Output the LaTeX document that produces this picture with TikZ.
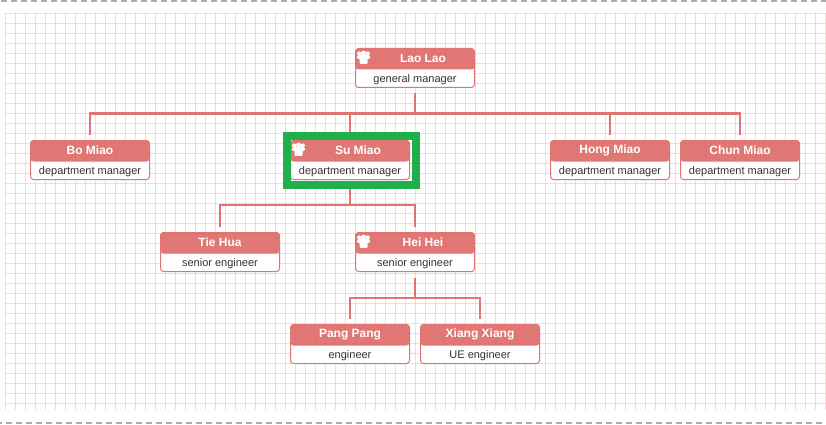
\documentclass[tikz,border=0pt]{standalone}
\usepackage{fontspec}
\setmainfont{Liberation Sans}
\definecolor{cardred}{HTML}{DF6C69}
\definecolor{cardline}{HTML}{E27370}
\definecolor{gridpink}{HTML}{E8A0A0}
\definecolor{markgreen}{HTML}{1FB04B}
\definecolor{dashgrey}{HTML}{ABABAB}
\definecolor{roletext}{HTML}{333333}
\tikzset{
    card/.style={rectangle, draw=cardline, line width=1pt, rounded corners=3pt,
        minimum width=119pt, minimum height=39pt, inner sep=0pt,
        path picture={
            \fill[white] ([yshift=-21pt]path picture bounding box.north west) rectangle (path picture bounding box.south east);
            \fill[cardred, fill opacity=0.92] (path picture bounding box.north west) rectangle ([yshift=-21pt]path picture bounding box.north east);}},
    cardtitle/.style={text=white, font=\bfseries\fontsize{12}{14}\selectfont},
    cardrole/.style={text=roletext, font=\fontsize{11}{13}\selectfont},
    link/.style={draw=cardline, line width=2pt, shorten <=5.5pt, shorten >=5.5pt},
    gridline/.style={gridpink, line width=1pt, opacity=0.38},
    edgeline/.style={dashgrey, line width=2pt, dash pattern=on 6pt off 4pt}
}
% #1 title shift, #2 name, #3 x, #4 y, #5 title, #6 role
\newcommand{\card}[6][0]{
    \node[card] (#2) at (#3,#4) {};
    \node[cardtitle] (#2title) at ([xshift=#1pt,yshift=9.5pt]#2.center) {#5};
    \node[cardrole] (#2role) at ([yshift=-11.5pt]#2.center) {#6};
}
% three heads and bodies in the header
\newcommand{\people}[1]{
    \begin{scope}[shift={([xshift=-51.5pt,yshift=10.5pt]#1.center)}, white]
        \fill (-4.3,-4) circle (2.1pt);
        \fill (4.3,-4) circle (2.1pt);
        \fill (0,-4.4) circle (2.5pt);
        \fill[rounded corners=1.5pt] (-6.6,1.6) rectangle (6.6,-2.4);
        \fill[rounded corners=1pt] (-4,6.4) rectangle (4,-2.2);
    \end{scope}
}
\begin{document}
\begin{tikzpicture}[x=1pt, y=-1pt]
    \useasboundingbox (0,0) rectangle (826,425);

    % background
    \foreach \x in {5.5,15.5,...,825.5} \draw[gridline] (\x,13) -- (\x,410);
    \foreach \y in {13.5,23.5,...,403.5} \draw[gridline] (5,\y) -- (826,\y);
    \draw[edgeline] (1,1) -- (826,1);
    \draw[edgeline, dash phase=4pt] (0,423.3) -- (826,423.3);

    \card[8]{lao}{415}{68}{Lao Lao}{general manager}
    \card{bo}{90}{160}{Bo Miao}{department manager}
    \card[8]{su}{350}{160}{Su Miao}{department manager}
    \card{hong}{610}{160}{Hong Miao}{department manager}
    \card{chun}{740}{160}{Chun Miao}{department manager}
    \card{tie}{220}{252}{Tie Hua}{senior engineer}
    \card[8]{hei}{415}{252}{Hei Hei}{senior engineer}
    \card{pang}{350}{344}{Pang Pang}{engineer}
    \card{xiang}{480}{344}{Xiang Xiang}{UE engineer}

    \people{lao}
    \people{su}
    \people{hei}

    \foreach \child in {bo,su,hong,chun}
        \draw[link] (lao.south) -- ++(0,25.5) -| (\child.north);
    \foreach \child in {tie,hei}
        \draw[link] (su.south) -- ++(0,25) -| (\child.north);
    \foreach \child in {pang,xiang}
        \draw[link] (hei.south) -- ++(0,26) -| (\child.north);

    % selection around su
    \node[draw=markgreen, line width=8pt, minimum width=129pt, minimum height=49pt, inner sep=0pt] (mark) at (351.5,160.5) {};
\end{tikzpicture}
\end{document}
